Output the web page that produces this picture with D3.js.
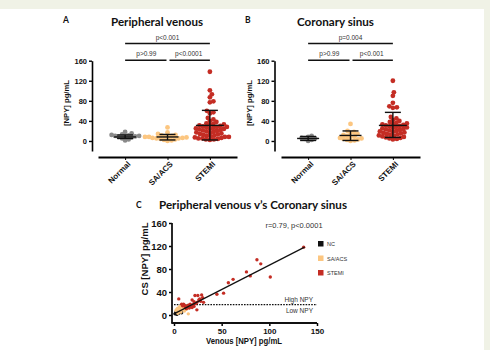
<!DOCTYPE html>
<html>
<head>
<meta charset="utf-8">
<style>
  body { margin: 0; background: #f0f2e6; }
  svg { display: block; }
  .tick text { font-family: "Liberation Sans", Arial, sans-serif; font-weight: bold; fill: #111; }
  .ttl { font-family: Lato, "Open Sans", sans-serif; font-weight: bold; fill: #111; }
  .lab { font-family: "Liberation Sans", Arial, sans-serif; font-weight: bold; fill: #111; }
  .pv { font-family: "Liberation Sans", Arial, sans-serif; font-size: 6.5px; fill: #333; }
</style>
</head>
<body>
<svg width="490" height="350"></svg>
<script src="https://cdnjs.cloudflare.com/ajax/libs/d3/7.8.5/d3.min.js"></script>
<script>
// groups
var cats = ["Normal", "SA/ACS", "STEMI"];
var colors = ["#8a8a8a", "#fcc680", "#c42d24"];

// panel A - peripheral venous NPY values per group
var normA = [1, 3, 5, 7, 8, 9, 9, 10, 10, 11, 12, 13, 15, 18];
var saA = [0, 1, 2, 3, 4, 5, 5, 6, 6, 7, 7, 8, 8, 9, 10, 11, 12, 14, 17, 27];
var stemiA = [138, 101, 93, 87, 79, 77, 60, 57, 55, 46, 43, 40, 38, 35, 34, 33, 32, 31, 30, 29, 28, 28, 27, 26, 25, 24, 24, 23, 22, 21, 20, 19, 18, 17, 16, 15, 14, 13, 12, 11, 10, 9, 8, 8, 7, 6, 5, 5, 4, 3, 3, 2];
// mean, lower, upper error bar
var statsA = [[8, 5, 12], [8, 2, 13], [31, 2, 61]];
var pA = ["p<0.001", "p>0.99", "p<0.0001"];

// panel B - coronary sinus
var normB = [0, 2, 4, 5, 6, 8, 10];
var saB = [0, 1, 2, 3, 4, 5, 6, 8, 9, 10, 12, 14, 16, 18, 20, 34];
var stemiB = [120, 97, 90, 76, 69, 67, 66, 48, 45, 42, 40, 38, 36, 35, 34, 33, 32, 31, 30, 29, 28, 27, 26, 25, 24, 23, 22, 21, 20, 19, 18, 17, 16, 15, 14, 13, 12, 11, 10, 9, 8, 7, 6, 5, 4, 3];
var statsB = [[5, 1, 9], [11, 1, 20], [31, 7, 57]];
var pB = ["p=0.004", "p>0.99", "p<0.001"];

var yTicks = [0, 40, 80, 120, 160];

// panel C - venous vs coronary sinus
var ncPts = [[1, 2], [2, 5], [3, 1], [4, 4], [5, 3], [6, 6], [3, 8], [8, 4]];
var saPts = [[2, 8], [3, 10], [4, 12], [5, 6], [6, 11], [7, 5], [8, 9], [9, 14], [10, 12], [11, 7], [12, 16], [15, 2], [6, 15], [4, 3], [13, 10]];
var stemiPts = [[136, 118], [87, 96], [91, 89], [76, 75], [80, 68], [101, 66], [62, 62], [57, 56], [52, 38], [45, 36], [5, 28], [22, 34], [25, 34], [29, 35], [19, 26], [21, 23], [28, 24], [31, 22], [10, 19], [15, 17], [18, 14], [21, 15], [13, 11], [24, 9], [12, 13], [16, 12], [20, 18], [23, 20], [26, 26], [17, 19], [14, 15], [9, 16], [27, 28], [30, 30], [24, 22], [11, 17], [19, 13], [8, 19]];
var fitLine = [[0, 2], [137, 118]];
var cutoff = 18;
var xTicksC = [0, 50, 100, 150];
var legendNames = ["NC", "SA/ACS", "STEMI"];
var legendColors = ["#111111", "#fcc680", "#c42d24"];

var svg = d3.select("svg");
svg.append("rect").attr("x", 0).attr("y", 9).attr("width", 484).attr("height", 341).attr("fill", "#fff");

// simple beeswarm: place each point as close to the centre as possible
function swarm(vals, cx, y, minD) {
  var placed = [];
  vals.slice().sort(function(a, b) { return a - b; }).forEach(function(v) {
    var py = y(v), px = cx;
    for (var k = 0; k < 200; k++) {
      var off = Math.ceil(k / 2) * 0.5 * (k % 2 ? 1 : -1);
      var tx = cx + off;
      var ok = placed.every(function(p) { return Math.hypot(p[0] - tx, p[1] - py) >= minD; });
      if (ok) { px = tx; break; }
    }
    placed.push([px, py]);
  });
  return placed;
}

function dotPlot(opt) {
  var g = svg.append("g");
  var x = d3.scalePoint().domain(cats).range([opt.x0, opt.x1]).padding(0.64);
  var y = d3.scaleLinear().domain([-20, 160]).range([151, 60.7]);

  g.append("text").attr("class", "ttl").attr("x", opt.letterX).attr("y", 23)
    .style("font-size", "8.5px").text(opt.letter);
  g.append("text").attr("class", "ttl").attr("x", opt.titleX).attr("y", 26)
    .attr("text-anchor", "middle").style("font-size", "11.5px")
    .attr("textLength", opt.titleLen).attr("lengthAdjust", "spacingAndGlyphs").text(opt.title);

  // y axis
  var ya = g.append("g").attr("transform", "translate(" + opt.yx + ",0)")
    .call(d3.axisLeft(y).tickValues(yTicks).tickSize(3).tickSizeOuter(0).tickPadding(2));
  ya.select(".domain").attr("stroke-width", 1.6);
  ya.selectAll(".tick line").attr("stroke-width", 1.4);
  ya.selectAll(".tick text").style("font-size", "7.5px");
  g.append("text").attr("class", "lab")
    .attr("transform", "translate(" + (opt.yx - 23) + ",103) rotate(-90)")
    .attr("text-anchor", "middle").style("font-size", "7.5px")
    .attr("textLength", 46).attr("lengthAdjust", "spacingAndGlyphs").text("[NPY] pg/mL");

  // x axis
  var xa = g.append("g").attr("transform", "translate(0,157)")
    .call(d3.axisBottom(x).tickSize(3).tickSizeOuter(0).tickPadding(3));
  xa.select(".domain").attr("stroke-width", 2);
  xa.selectAll(".tick text").style("font-size", "8px")
    .attr("text-anchor", "end").attr("dx", "-0.2em").attr("dy", "0.4em")
    .attr("transform", "rotate(-45)");

  // points
  opt.groups.forEach(function(vals, i) {
    var pts = swarm(vals, x(cats[i]), y, 3.6);
    g.append("g").selectAll("circle").data(pts).enter().append("circle")
      .attr("cx", function(d) { return d[0]; })
      .attr("cy", function(d) { return d[1]; })
      .attr("r", 2.4).attr("fill", colors[i]);
  });

  // mean +/- sd
  opt.stats.forEach(function(s, i) {
    var cx = x(cats[i]);
    var mw = i == 2 ? 14 : 11, cw = 8;
    var eb = g.append("g").attr("stroke", "#111").attr("stroke-width", 1.4);
    eb.append("line").attr("x1", cx).attr("x2", cx).attr("y1", y(s[1])).attr("y2", y(s[2]));
    eb.append("line").attr("x1", cx - mw).attr("x2", cx + mw).attr("y1", y(s[0])).attr("y2", y(s[0]));
    eb.append("line").attr("x1", cx - cw).attr("x2", cx + cw).attr("y1", y(s[1])).attr("y2", y(s[1]));
    eb.append("line").attr("x1", cx - cw).attr("x2", cx + cw).attr("y1", y(s[2])).attr("y2", y(s[2]));
  });

  // significance bars
  var a = x(cats[0]), b = x(cats[1]), c = x(cats[2]);
  var sb = g.append("g").attr("stroke", "#111").attr("stroke-width", 1.5);
  sb.append("line").attr("x1", a).attr("x2", c).attr("y1", 43.5).attr("y2", 43.5);
  sb.append("line").attr("x1", a).attr("x2", b - 1).attr("y1", 60.3).attr("y2", 60.3);
  sb.append("line").attr("x1", b + 2).attr("x2", c).attr("y1", 60.3).attr("y2", 60.3);
  g.append("text").attr("class", "pv").attr("x", (a + c) / 2).attr("y", 39.5).attr("text-anchor", "middle").text(opt.p[0]);
  g.append("text").attr("class", "pv").attr("x", (a + b) / 2).attr("y", 55.5).attr("text-anchor", "middle").text(opt.p[1]);
  g.append("text").attr("class", "pv").attr("x", (b + c) / 2).attr("y", 55.5).attr("text-anchor", "middle").text(opt.p[2]);
}

dotPlot({ x0: 98, x1: 237, yx: 92, letter: "A", letterX: 63, title: "Peripheral venous", titleX: 157, titleLen: 92,
  groups: [normA, saA, stemiA], stats: statsA, p: pA });
dotPlot({ x0: 281, x1: 420, yx: 274.5, letter: "B", letterX: 245, title: "Coronary sinus", titleX: 335.5, titleLen: 77,
  groups: [normB, saB, stemiB], stats: statsB, p: pB });

// ---- panel C ----
var gc = svg.append("g");
var xc = d3.scaleLinear().domain([0, 150]).range([174, 317]);
var yc = d3.scaleLinear().domain([0, 160]).range([315, 223]);

gc.append("text").attr("class", "ttl").attr("x", 136).attr("y", 208).style("font-size", "8.5px").text("C");
gc.append("text").attr("class", "ttl").attr("x", 253).attr("y", 209).attr("text-anchor", "middle")
  .style("font-size", "12px").attr("textLength", 188).attr("lengthAdjust", "spacingAndGlyphs")
  .text("Peripheral venous v\u2019s Coronary sinus");

var yac = gc.append("g").attr("transform", "translate(172,0)")
  .call(d3.axisLeft(yc).tickValues(yTicks).tickSize(3).tickSizeOuter(0).tickPadding(2));
yac.select(".domain").remove();
yac.selectAll(".tick line").attr("stroke-width", 1.5);
yac.selectAll(".tick text").style("font-size", "9.5px");
gc.append("line").attr("x1", 172).attr("x2", 172).attr("y1", yc(160)).attr("y2", 323.5)
  .attr("stroke", "#111").attr("stroke-width", 1.8);

var xac = gc.append("g").attr("transform", "translate(0,323)")
  .call(d3.axisBottom(xc).tickValues(xTicksC).tickSize(3).tickSizeOuter(0).tickPadding(2));
xac.select(".domain").remove();
xac.selectAll(".tick line").attr("stroke-width", 1.5);
xac.selectAll(".tick text").style("font-size", "8px");
gc.append("line").attr("x1", 171.5).attr("x2", xc(150)).attr("y1", 323).attr("y2", 323)
  .attr("stroke", "#111").attr("stroke-width", 1.8);

gc.append("text").attr("class", "lab").attr("x", 244).attr("y", 344).attr("text-anchor", "middle")
  .style("font-size", "9.5px").attr("textLength", 76).attr("lengthAdjust", "spacingAndGlyphs")
  .text("Venous [NPY] pg/mL");
gc.append("text").attr("class", "lab").attr("transform", "translate(148,259) rotate(-90)")
  .attr("text-anchor", "middle").style("font-size", "9.5px")
  .attr("textLength", 73).attr("lengthAdjust", "spacingAndGlyphs").text("CS [NPY] pg/mL");

// cutoff line
gc.append("line").attr("x1", xc(0)).attr("x2", xc(150)).attr("y1", yc(cutoff)).attr("y2", yc(cutoff))
  .attr("stroke", "#111").attr("stroke-width", 1.4).attr("stroke-dasharray", "1.6,1.2");
gc.append("text").attr("class", "pv").attr("x", 313).attr("y", yc(cutoff) - 3).attr("text-anchor", "end").text("High NPY");
gc.append("text").attr("class", "pv").attr("x", 313).attr("y", yc(cutoff) + 8).attr("text-anchor", "end").text("Low NPY");

[ncPts, saPts, stemiPts].forEach(function(pts, i) {
  gc.append("g").selectAll("circle").data(pts).enter().append("circle")
    .attr("cx", function(d) { return xc(d[0]); })
    .attr("cy", function(d) { return yc(d[1]); })
    .attr("r", 1.7).attr("fill", legendColors[i]);
});

gc.append("path").attr("d", d3.line().x(function(d) { return xc(d[0]); }).y(function(d) { return yc(d[1]); })(fitLine))
  .attr("stroke", "#111").attr("stroke-width", 1.2).attr("fill", "none");

gc.append("text").attr("class", "pv").attr("x", 294).attr("y", 228).attr("text-anchor", "middle")
  .style("font-size", "7.5px").text("r=0.79, p<0.0001");

legendNames.forEach(function(n, i) {
  var ly = 244 + i * 14.5;
  gc.append("rect").attr("x", 318).attr("y", ly - 3).attr("width", 5.5).attr("height", 5.5).attr("fill", legendColors[i]);
  gc.append("text").attr("class", "pv").attr("x", 327).attr("y", ly + 2).style("font-size", "5.5px").text(n);
});
</script>
</body>
</html>
